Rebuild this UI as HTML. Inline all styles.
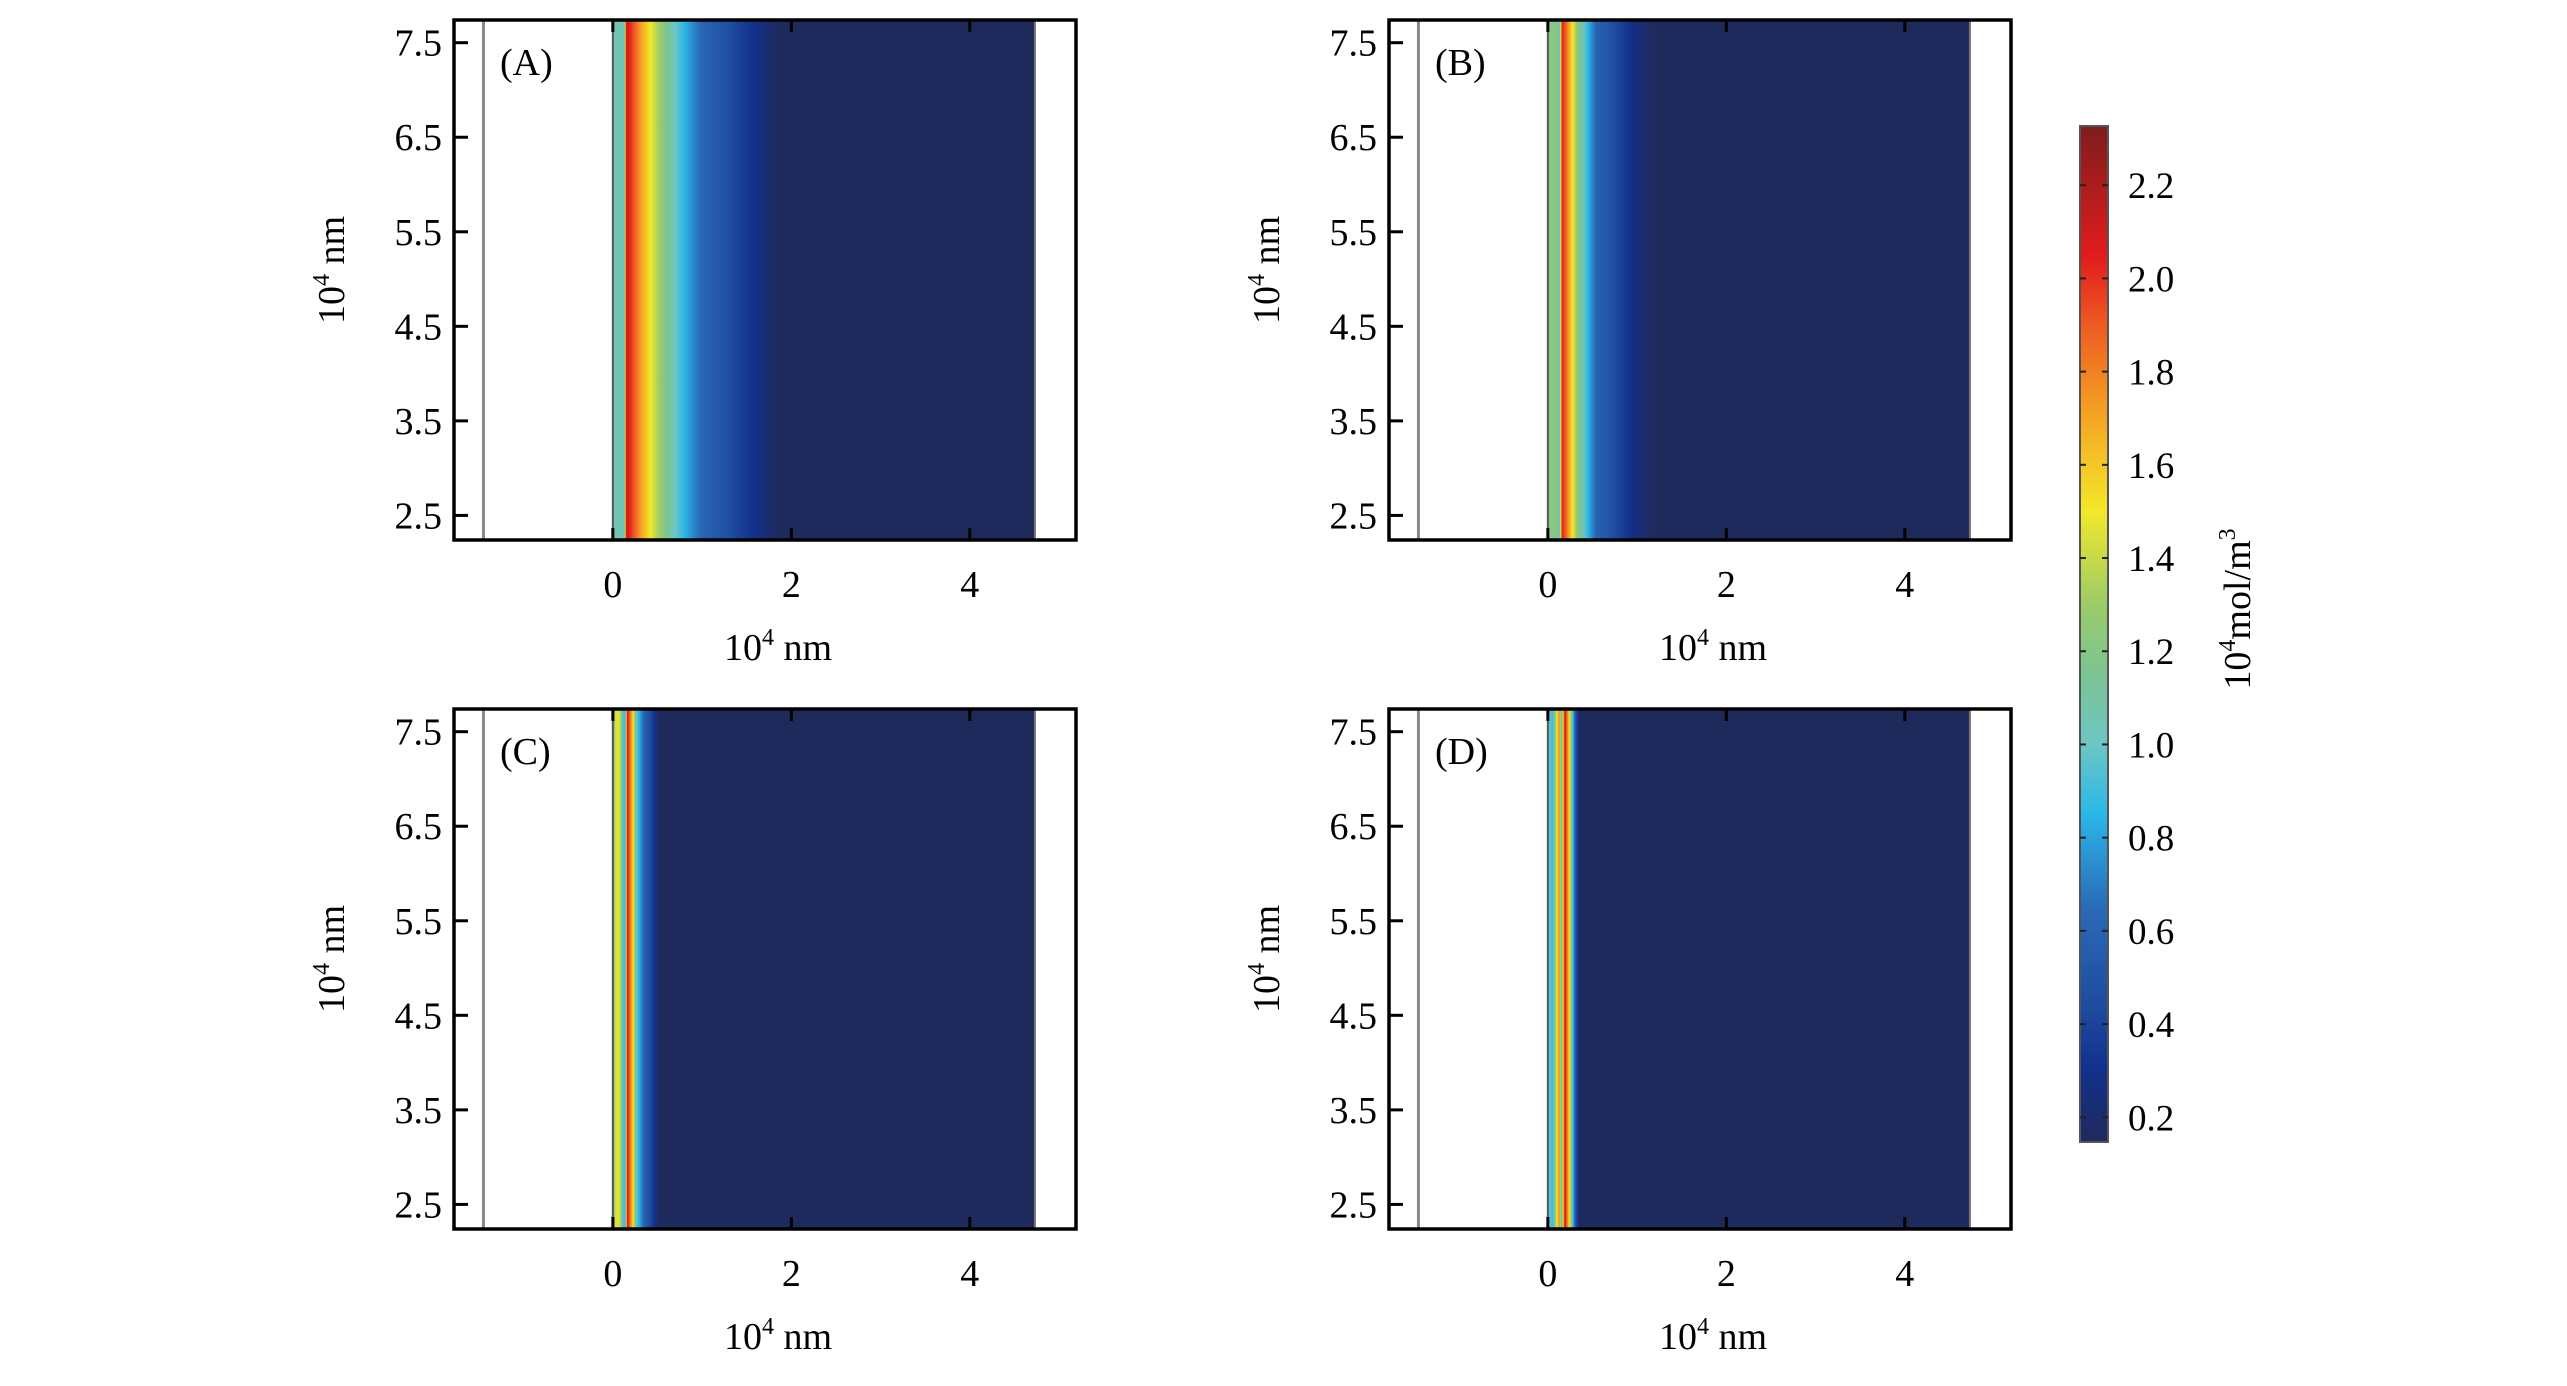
<!DOCTYPE html>
<html><head><meta charset="utf-8"><style>
html,body{margin:0;padding:0;background:#fff;}
svg{display:block;font-family:"Liberation Serif",serif;}
</style></head><body>
<svg id="chart" width="2567" height="1386" viewBox="0 0 2567 1386" xmlns="http://www.w3.org/2000/svg"></svg>
<script>
// ---- data (x in 10^4 nm, concentration in 10^4 mol/m^3) ----
const panelLabels = ["(A)", "(B)", "(C)", "(D)"];
const A_x = [0,0.13,0.15,0.2,0.3,0.42,0.55,0.7,0.8,1.0,1.3,1.55,1.85,4.73];
const A_c = [1.05,1.05,2.1,2.0,1.75,1.5,1.25,1.0,0.85,0.62,0.45,0.32,0.15,0.15];
const B_x = [0,0.1,0.13,0.16,0.22,0.28,0.33,0.45,0.55,0.8,1.0,1.2,4.73];
const B_c = [1.2,1.2,1.0,2.05,1.8,1.5,1.25,0.85,0.6,0.4,0.25,0.15,0.15];
const C_x = [0,0.03,0.08,0.11,0.14,0.16,0.2,0.23,0.27,0.35,0.45,0.52,4.73];
const C_c = [1.0,1.45,1.45,0.95,0.9,2.1,1.8,1.5,0.95,0.6,0.35,0.15,0.15];
const D_x = [0,0.06,0.1,0.13,0.15,0.19,0.21,0.245,0.28,0.31,0.36,4.73];
const D_c = [1.0,0.9,1.5,1.8,0.95,2.1,1.9,1.5,0.9,0.5,0.15,0.15];
const xTicks = [0, 2, 4];
const yTicks = [2.5, 3.5, 4.5, 5.5, 6.5, 7.5];
const yTickLabels = ["2.5","3.5","4.5","5.5","6.5","7.5"];
const cbTicks = [0.2,0.4,0.6,0.8,1.0,1.2,1.4,1.6,1.8,2.0,2.2];
const cbTickLabels = ["0.2","0.4","0.6","0.8","1.0","1.2","1.4","1.6","1.8","2.0","2.2"];
const cmapV = [0.15,0.3,0.45,0.65,0.85,1.0,1.15,1.3,1.5,1.7,1.9,2.05,2.33];
const cmapC = ["#1f2a5c","#12308c","#1f4ea0","#2a6ab8","#2ab8e8","#6cc6c4","#7cc494","#9ccb68","#f2e82a","#f5a623","#ee5a22","#e21b1b","#7f1d1d"];

const NS = "http://www.w3.org/2000/svg";
const svg = document.getElementById("chart");
function mk(tag, attrs, parent){ const e=document.createElementNS(NS,tag); for(const k in attrs) e.setAttribute(k,attrs[k]); (parent||svg).appendChild(e); return e; }
function hex(h){return [parseInt(h.slice(1,3),16),parseInt(h.slice(3,5),16),parseInt(h.slice(5,7),16)];}
function cmap(v){
  if(v<=cmapV[0]) return cmapC[0];
  for(let i=1;i<cmapV.length;i++){ if(v<=cmapV[i]){ const t=(v-cmapV[i-1])/(cmapV[i]-cmapV[i-1]); const a=hex(cmapC[i-1]),b=hex(cmapC[i]); return "rgb("+a.map((q,j)=>Math.round(q+(b[j]-q)*t)).join(",")+")"; } }
  return cmapC[cmapC.length-1];
}
const defs = mk("defs",{});

const W=622, H=520;
const panels=[{ox:454,oy:20,xs:A_x,cs:A_c},{ox:1389,oy:20,xs:B_x,cs:B_c},{ox:454,oy:709,xs:C_x,cs:C_c},{ox:1389,oy:709,xs:D_x,cs:D_c}];
const xMin=-1.78,xMax=5.19,yMin=2.24,yMax=7.74;
panels.forEach((p,i)=>{
  const sx=v=>p.ox+(v-xMin)/(xMax-xMin)*W;
  const sy=v=>p.oy+H-(v-yMin)/(yMax-yMin)*H;
  const g=mk("g",{});
  
  
  const x0=p.xs[0], x1=p.xs[p.xs.length-1];
  const lg=mk("linearGradient",{id:"pg"+i,gradientUnits:"userSpaceOnUse",x1:sx(x0),y1:0,x2:sx(x1),y2:0},defs);
  for(let k=0;k<p.xs.length;k++){
    const sub = k<p.xs.length-1?6:1;
    for(let s=0;s<sub;s++){
      const t=s/sub; const xv=k<p.xs.length-1?p.xs[k]+(p.xs[k+1]-p.xs[k])*t:p.xs[k];
      const cv=k<p.xs.length-1?p.cs[k]+(p.cs[k+1]-p.cs[k])*t:p.cs[k];
      mk("stop",{offset:((xv-x0)/(x1-x0)).toFixed(5),"stop-color":cmap(cv)},lg);
    }
  }
  const hm=mk("rect",{x:sx(x0),y:p.oy,width:sx(x1)-sx(x0),height:H,fill:"url(#pg"+i+")"},g);
  
  
  const gl=mk("line",{x1:sx(-1.45),x2:sx(-1.45),y1:p.oy,y2:p.oy+H,stroke:"#888","stroke-width":3},g);
  
  
  mk("line",{x1:sx(0),x2:sx(0),y1:p.oy,y2:p.oy+H,stroke:"#555","stroke-width":2},g);
  mk("line",{x1:sx(x1),x2:sx(x1),y1:p.oy,y2:p.oy+H,stroke:"#777","stroke-width":2},g);
  const fr=mk("rect",{x:p.ox,y:p.oy,width:W,height:H,fill:"none",stroke:"#000","stroke-width":3.5},g);
  
  
  xTicks.forEach(t=>{
    mk("line",{x1:sx(t),x2:sx(t),y1:p.oy+H,y2:p.oy+H-12,stroke:"#000","stroke-width":3},g);
    mk("line",{x1:sx(t),x2:sx(t),y1:p.oy,y2:p.oy+12,stroke:"#000","stroke-width":3},g);
    const tl=mk("text",{x:sx(t),y:p.oy+H+57,"text-anchor":"middle","font-size":38},g);
    tl.textContent=String(t);
    
    
  });
  yTicks.forEach((t,j)=>{
    mk("line",{x1:p.ox,x2:p.ox+14,y1:sy(t),y2:sy(t),stroke:"#000","stroke-width":3},g);
    const tl=mk("text",{x:p.ox-12,y:sy(t)+13,"text-anchor":"end","font-size":38},g);
    tl.textContent=yTickLabels[j];
    
    
  });
  const pl=mk("text",{x:p.ox+46,y:p.oy+55,"font-size":38},g);
  pl.textContent=panelLabels[i];
  
  
  const xl=mk("text",{x:p.ox+324,y:p.oy+H+120,"text-anchor":"middle","font-size":38},g);
  xl.innerHTML='10<tspan font-size="24" dy="-15">4</tspan><tspan dy="15"> nm</tspan>';
  
  
  const yl=mk("text",{x:0,y:0,"text-anchor":"middle","font-size":38,transform:"translate("+(p.ox-110)+","+(p.oy+250)+") rotate(-90)"},g);
  yl.innerHTML='10<tspan font-size="24" dy="-15">4</tspan><tspan dy="15"> nm</tspan>';
  
  
});

const cbX=2080, cbW=28, cbTop=126, cbBot=1142, cbMax=2.327, cbMin=0.147;
const cy=v=>cbBot-(v-cbMin)/(cbMax-cbMin)*(cbBot-cbTop);
const cg=mk("linearGradient",{id:"cbg",gradientUnits:"userSpaceOnUse",x1:0,y1:cbBot,x2:0,y2:cbTop},defs);
cmapV.forEach((v,k)=>{ mk("stop",{offset:Math.max(0,Math.min(1,(v-cbMin)/(cbMax-cbMin))).toFixed(4),"stop-color":cmapC[k]},cg); });
const cb=mk("g",{});


mk("rect",{x:cbX,y:cbTop,width:cbW,height:cbBot-cbTop,fill:"url(#cbg)",stroke:"#555","stroke-width":2},cb);
cbTicks.forEach((t,j)=>{
  mk("line",{x1:cbX,x2:cbX+6,y1:cy(t),y2:cy(t),stroke:"#222","stroke-width":2},cb);
  mk("line",{x1:cbX+cbW-6,x2:cbX+cbW,y1:cy(t),y2:cy(t),stroke:"#222","stroke-width":2},cb);
  const tl=mk("text",{x:cbX+48,y:cy(t)+13,"font-size":37},cb);
  tl.textContent=cbTickLabels[j];
  
  
});
const ct=mk("text",{x:0,y:0,"text-anchor":"middle","font-size":38,transform:"translate(2250,609) rotate(-90)"},cb);
ct.innerHTML='10<tspan font-size="24" dy="-15">4</tspan><tspan dy="15">mol/m</tspan><tspan font-size="24" dy="-15">3</tspan>';


</script>
</body></html>
